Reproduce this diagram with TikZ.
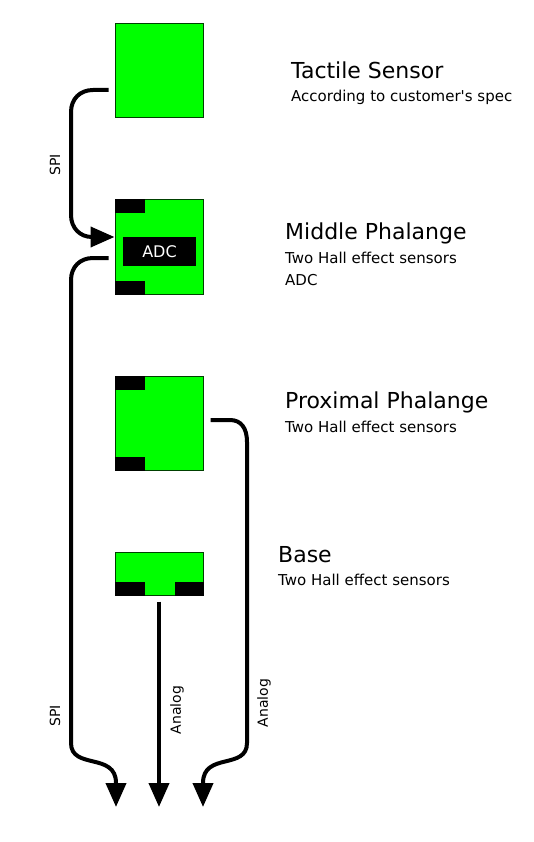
\documentclass[tikz,border=0pt]{standalone}
\usepackage{fontspec}
\setmainfont{DejaVu Sans}[Ligatures=TeXOff]
\usetikzlibrary{arrows.meta}
\definecolor{brd}{RGB}{0,64,0}
\definecolor{grn}{RGB}{0,255,0}
\begin{document}
\begin{tikzpicture}[x=1pt,y=-1pt,
  board/.style={draw=brd,line width=1pt,fill=grn,inner sep=0pt,minimum width=88pt},
  tab/.style={fill=black},
  conn/.style={line width=4pt,-{Triangle[length=24pt,width=20pt]}},
  title/.style={anchor=base west,inner sep=0pt,font=\fontsize{22}{26}\selectfont},
  sub/.style={anchor=base west,inner sep=0pt,font=\fontsize{15}{18}\selectfont},
  lab/.style={rotate=90,inner sep=0pt,font=\fontsize{14}{16}\selectfont}]
\useasboundingbox (0,0) rectangle (534,842);
% boards
\node[board,minimum height=94pt] (tac) at (159,71) {};
\node[board,minimum height=94pt] (mid) at (159,247) {};
\node[board,minimum height=94pt] (prox) at (159,423) {};
\node[board,minimum height=43pt] (base) at (159,573.5) {};
% black pads
\fill[tab] (mid.north west) rectangle ++(30,14);
\fill[tab] (mid.south west) rectangle ++(30,-14);
\fill[tab] (prox.north west) rectangle ++(30,14);
\fill[tab] (prox.south west) rectangle ++(30,-14);
\fill[tab] (base.south west) rectangle ++(30,-14);
\fill[tab] (base.south east) rectangle ++(-29,-14);
\node[fill=black,text=white,inner sep=0pt,minimum width=73pt,minimum height=29pt,
      font=\fontsize{16}{18}\selectfont] (adc) at (159.5,251.5) {ADC};
% free ends
\coordinate (o1) at (116,807);
\coordinate (o2) at (159,807);
\coordinate (o3) at (203,807);
% connectors
\draw[conn] ([shift={(-6,19)}]tac.west) -- (93,90) .. controls (80,90) and (71,99) .. (71,112)
  -- (71,215) .. controls (71,228) and (80,237) .. (92,237) -- ([shift={(0,-10)}]mid.west);
\draw[conn] ([shift={(-6,11)}]mid.west) -- (93,258) .. controls (80,258) and (71,267) .. (71,280)
  -- (71,743) .. controls (71,770) and (116,752) .. (116,783) -- (o1);
\draw[conn] ([shift={(0,6)}]base.south) -- (o2);
\draw[conn] ([shift={(7,-3)}]prox.east) -- (230,420) .. controls (241,420) and (247,428) .. (247,442)
  -- (247,743) .. controls (247,770) and (203,752) .. (203,783) -- (o3);
% connector labels
\node[lab] (l1) at (55,165) {SPI};
\node[lab] (l2) at (55,716) {SPI};
\node[lab] (l3) at (177,710) {Analog};
\node[lab] (l4) at (264,703) {Analog};
% descriptions
\node[title] (t1) at (291,79) {Tactile Sensor};
\node[sub] (s1) at (291,102) {According to customer's spec};
\node[title] (t2) at (285,239) {Middle Phalange};
\node[sub] (s2) at (285,263) {Two Hall effect sensors};
\node[sub] (s2b) at (285,285) {ADC};
\node[title] (t3) at (285,408) {Proximal Phalange};
\node[sub] (s3) at (285,432) {Two Hall effect sensors};
\node[title] (t4) at (278,562.5) {Base};
\node[sub] (s4) at (278,585) {Two Hall effect sensors};
\end{tikzpicture}
\end{document}
